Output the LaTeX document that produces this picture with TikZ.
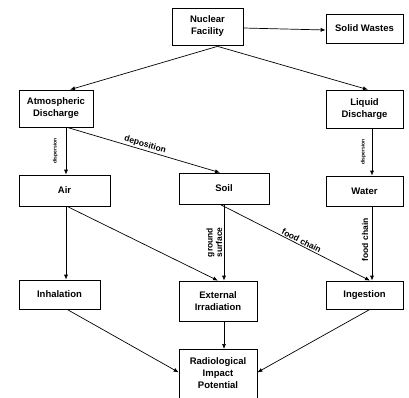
\documentclass[tikz,border=0pt]{standalone}
\usepackage{fontspec}
\setmainfont{Liberation Sans}
\usetikzlibrary{calc,arrows.meta}
\begin{document}
\begin{tikzpicture}[x=1pt,y=-1pt,
  box/.style={draw, line width=0.7pt, inner sep=0pt, align=center,
    font=\fontsize{9.5}{12}\selectfont\bfseries},
  arr/.style={line width=0.7pt, -{Latex[length=5pt,width=4pt]}},
  lbl/.style={font=\fontsize{8.5}{9.5}\selectfont\bfseries, inner sep=1pt},
  tiny/.style={font=\fontsize{5}{5}\selectfont\bfseries, inner sep=0pt}]
\useasboundingbox (0,0) rectangle (409,397);
\clip (0,0) rectangle (409,397);
\node[box, minimum width=71pt, minimum height=37pt] (nuc) at (207.5,26.5) {Nuclear\\Facility};
\node[box, minimum width=77pt, minimum height=29pt] (sol) at (364.5,28.5) {Solid Wastes};
\node[box, minimum width=74pt, minimum height=37pt] (atm) at (56,108.5) {Atmospheric\\Discharge};
\node[box, minimum width=77pt, minimum height=38pt] (liq) at (364.5,109) {Liquid\\Discharge};
\node[box, minimum width=91pt, minimum height=31pt] (air) at (64.5,190.5) {Air};
\node[box, minimum width=90pt, minimum height=31pt] (soil) at (224,188.5) {Soil};
\node[box, minimum width=77pt, minimum height=30pt] (wat) at (364.5,191) {Water};
\node[box, minimum width=81pt, minimum height=29pt] (inh) at (59.5,294.5) {Inhalation};
\node[box, minimum width=78pt, minimum height=40pt] (ext) at (218,301) {External\\Irradiation};
\node[box, minimum width=77pt, minimum height=28pt] (ing) at (364.5,295) {Ingestion};
\node[box, minimum width=78pt, minimum height=54pt, anchor=north] (rad) at (218,349)
  {\raisebox{0pt}[0pt][0pt]{}\\[-16pt]Radiological\\Impact\\Potential};

\draw[arr] ($(nuc.east)+(0,1.5)$) -- ($(sol.west)+(0,1.5)$);
\draw[arr] ($(nuc.south)+(10,1)$) -- ($(atm.north)+(14,0)$);
\draw[arr] ($(nuc.south)+(10,1)$) -- ($(liq.north)+(3.5,0)$);
\draw[arr] ($(atm.south)+(10,0)$) -- node[tiny, rotate=90, anchor=south, yshift=8pt] {dispersion} ($(air.north)+(1.5,0)$);
\draw[arr] ($(atm.south)+(11,0)$) -- node[lbl, sloped, above] {deposition} ($(soil.north)+(-4,0)$);
\draw[arr] ($(liq.south)+(7.5,0)$) -- node[tiny, rotate=90, anchor=south, yshift=6pt] {dispersion} ($(wat.north)+(7.5,0)$);
\draw[arr] ($(air.south)+(1.5,0)$) -- ($(inh.north)+(6.5,0)$);
\draw[arr] ($(air.south)+(2.5,0)$) -- (ext.north);
\draw[arr] (soil.south) -- node[rotate=90, anchor=south, align=center, inner sep=1.5pt, font=\fontsize{8.5}{9.5}\selectfont\bfseries] {ground\\surface} ($(ext.north)+(6,0)$);
\draw[arr] ($(soil.south)+(-4,0)$) -- node[lbl, sloped, above, pos=0.53] {food chain} ($(ing.north)+(5.5,0)$);
\draw[arr] ($(wat.south)+(7.5,0)$) -- node[lbl, rotate=90, anchor=south, pos=0.45, inner sep=3.5pt] {food chain} ($(ing.north)+(7.5,0)$);
\draw[arr] ($(inh.south)+(7.5,0)$) -- ($(rad.west)+(0,-4)$);
\draw[arr] ($(ext.south)+(6,0)$) -- ($(rad.north)+(6,0)$);
\draw[arr] ($(ing.south)+(5.5,0)$) -- ($(rad.east)+(0,-4)$);
\end{tikzpicture}
\end{document}
